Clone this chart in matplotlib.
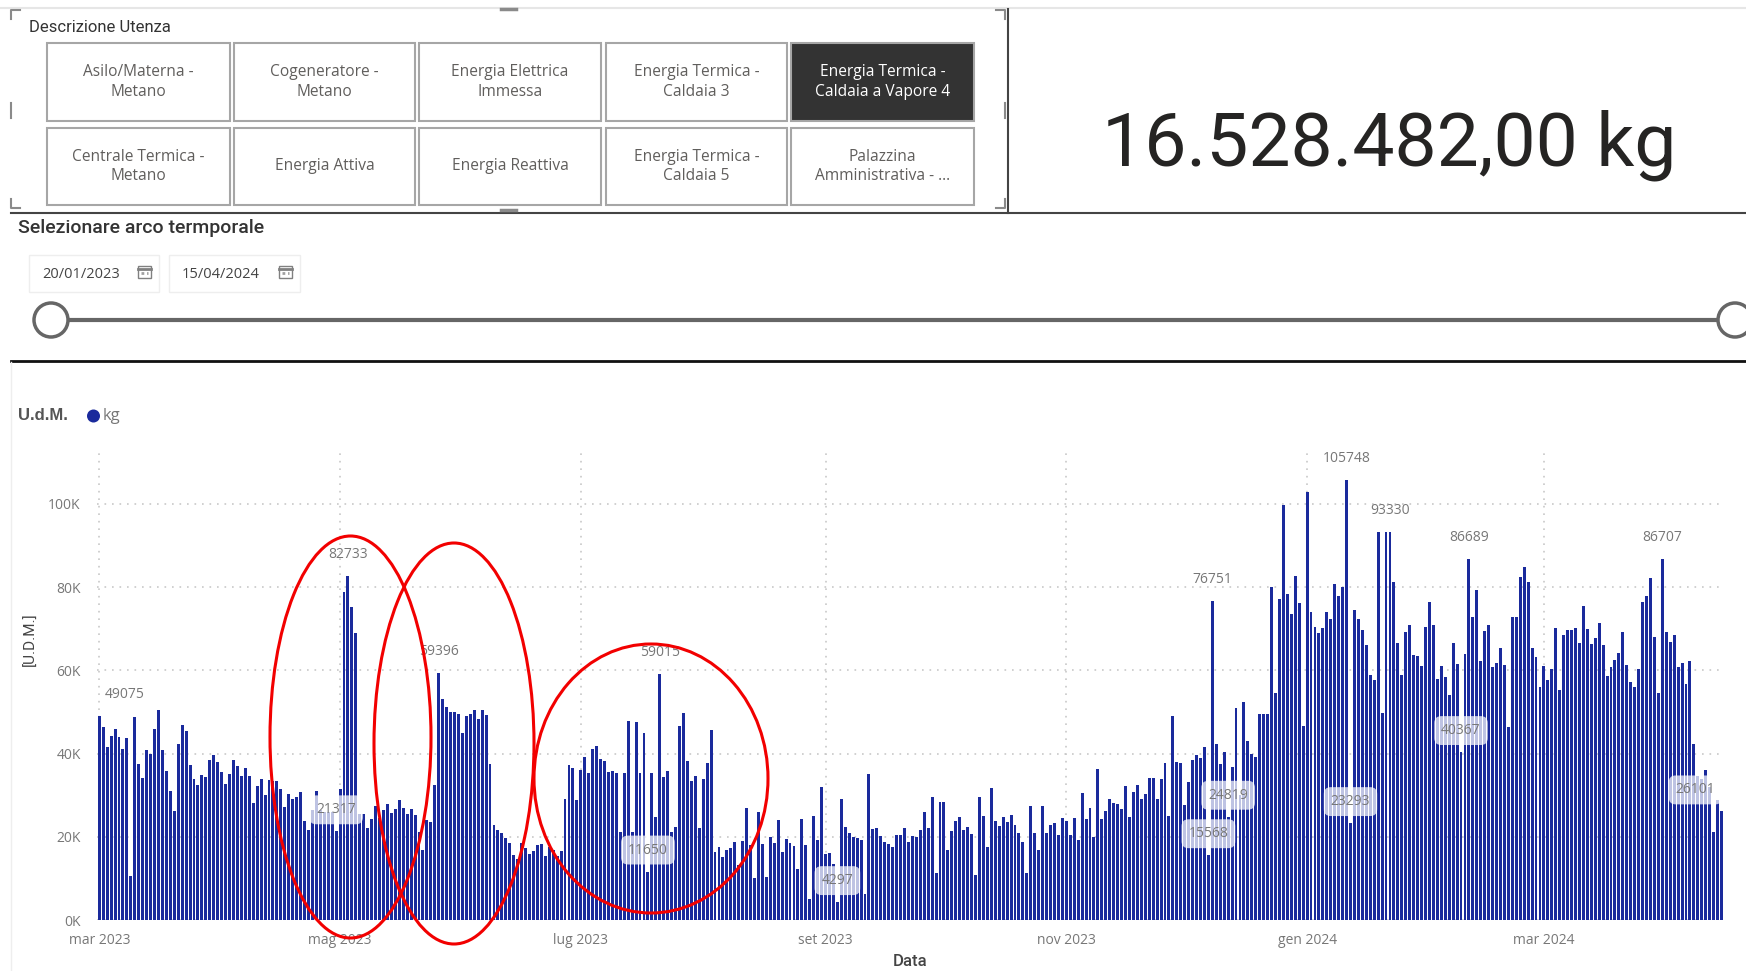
import datetime as dt
import numpy as np
import pandas as pd
import matplotlib
matplotlib.use('Agg')
import matplotlib.pyplot as plt
from matplotlib.patches import Ellipse, Rectangle, Circle

W, H = 1746, 971

# daily values, one list per month
kg_mar23 = [49075, 46500, 41700, 44300, 45800, 44000, 41000, 43700, 10500, 48800, 37500, 34100, 40800, 40000, 45800,
            50500, 40800, 35900, 30900, 26300, 42400, 46900, 45400, 37200, 33900, 32500, 34800, 34300, 38400, 39700, 38000]
kg_apr23 = [35500, 32700, 35200, 38400, 36900, 34500, 36500, 34500, 28100, 32300, 34000, 30000, 33700, 33400, 33400,
            31500, 27200, 30300, 29100, 29600, 30800, 23700, 21600, 26500, 31100, 26500, 26000, 26000, 26000, 21317]
kg_mag23 = [31600, 78800, 82733, 75200, 69000, 25500, 25500, 22100, 24300, 27500, 24500, 26400, 27900, 25700, 26700,
            28900, 26900, 25600, 26800, 25200, 21100, 16900, 24100, 23500, 32400, 59396, 53100, 51200, 49900, 49900, 49500]
kg_giu23 = [45000, 49000, 49400, 50500, 48200, 50500, 49200, 37600, 22900, 21600, 20900, 19600, 18400, 15600, 14700,
            18600, 17400, 15900, 16600, 18000, 18300, 15400, 17600, 16800, 15400, 16700, 29200, 37300, 36500, 28900]
kg_lug23 = [36100, 39100, 35400, 41000, 41800, 38600, 38300, 35600, 35700, 35300, 21100, 35400, 47800, 21200, 47500,
            35400, 45000, 11650, 35400, 24800, 59015, 34400, 35700, 21100, 22300, 46600, 49700, 38300, 33500, 34500, 22200]
kg_ago23 = [33900, 37700, 45700, 16400, 17500, 15200, 16800, 17300, 18700, 13200, 19100, 27000, 18000, 10000, 26000,
            18300, 10300, 19900, 18400, 24000, 16300, 19500, 18400, 17900, 12200, 24200, 18000, 5000, 25100, 19200, 31900]
kg_set23 = [15900, 16200, 13400, 4297, 29200, 22300, 21000, 20000, 19600, 19200, 6200, 35100, 21800, 22000, 20300,
            18800, 18300, 17500, 20400, 20400, 22200, 18800, 20300, 20000, 21600, 25900, 22200, 29500, 11400, 28300]
kg_ott23 = [28300, 16800, 21500, 23900, 24700, 21600, 22300, 20600, 10800, 29600, 25100, 17600, 31800, 23800, 22600,
            24800, 23600, 25200, 22800, 20900, 18800, 11400, 27400, 20800, 16800, 27400, 20800, 22800, 23200, 20400, 24400]
kg_nov23 = [23800, 20400, 24400, 19200, 30600, 24200, 27000, 20000, 36200, 24300, 26300, 29000, 28100, 28000, 26600,
            32300, 24800, 30700, 32400, 29000, 30300, 34100, 34100, 29100, 33800, 37700, 24900, 49000, 38000, 37700]
kg_dic23 = [27700, 33100, 38500, 39700, 39000, 41600, 15568, 76751, 42200, 37500, 40500, 24819, 36700, 51000, 30000,
            52400, 43000, 40000, 39300, 49500, 49500, 49500, 80000, 54600, 77200, 99700, 78300, 73500, 82600, 76200, 46700]
kg_gen24 = [102900, 74100, 70400, 69100, 70100, 74000, 72300, 80800, 78000, 80000, 105748, 23293, 74500, 72300, 69700,
            66100, 58800, 57600, 93200, 49700, 93200, 93330, 81200, 66500, 58900, 69200, 70800, 63800, 63400, 61000, 70500]
kg_feb24 = [76500, 70800, 57900, 61000, 58300, 54100, 66600, 61500, 40367, 64000, 86689, 72800, 79400, 62200, 69400,
            70900, 60800, 61800, 65500, 61200, 46500, 72800, 72800, 82400, 84800, 81300, 65300, 63200, 55900]
kg_mar24 = [61000, 57600, 60300, 70200, 55200, 68400, 69800, 69800, 70200, 66600, 75600, 70000, 66300, 67900, 71300,
            66000, 58600, 60800, 62400, 64300, 69200, 61200, 57300, 55900, 60400, 76400, 78000, 82100, 68000, 54600, 86707]
kg_apr24 = [69200, 66900, 68400, 60700, 61800, 56700, 62200, 42200, 34500, 34000, 36100, 32000, 21100, 28800, 26101]

peak_labels = [49075, 82733, 59396, 59015, 76751, 105748, 93330, 86689, 86707]
box_labels = [21317, 11650, 4297, 15568, 24819, 23293, 40367, 26101]
label_shift = {49075: 25, 26101: -26}

month_ticks = ['2023-03-01', '2023-05-01', '2023-07-01', '2023-09-01', '2023-11-01', '2024-01-01', '2024-03-01']
month_names = ['mar 2023', 'mag 2023', 'lug 2023', 'set 2023', 'nov 2023', 'gen 2024', 'mar 2024']
y_ticks = [0, 20000, 40000, 60000, 80000, 100000]
y_names = ['0K', '20K', '40K', '60K', '80K', '100K']

row1 = ['Asilo/Materna -\nMetano', 'Cogeneratore -\nMetano', 'Energia Elettrica\nImmessa',
        'Energia Termica -\nCaldaia 3', 'Energia Termica -\nCaldaia a Vapore 4']
row2 = ['Centrale Termica -\nMetano', 'Energia Attiva', 'Energia Reattiva',
        'Energia Termica -\nCaldaia 5', 'Palazzina\nAmministrativa - ...']

kg = (kg_mar23 + kg_apr23 + kg_mag23 + kg_giu23 + kg_lug23 + kg_ago23 + kg_set23 + kg_ott23
      + kg_nov23 + kg_dic23 + kg_gen24 + kg_feb24 + kg_mar24 + kg_apr24)
dates = pd.date_range('2023-03-01', '2024-04-15').to_pydatetime()
assert len(kg) == len(dates)

plt.rcParams['font.family'] = ['Open Sans', 'DejaVu Sans']
GREY = '#777777'
TXT = '#605e5c'
BAR = '#1a2a9c'

fig = plt.figure(figsize=(W / 100, H / 100), dpi=100, facecolor='white')

# the chart
ax = fig.add_axes([97.3 / W, 1 - 920 / H, (1723.5 - 97.3) / W, 470 / H])
ax.bar(dates, kg, width=0.74, color=BAR, zorder=2)
ax.set_xlim(dates[0] - dt.timedelta(hours=12), dates[-1] + dt.timedelta(hours=12))
ax.set_ylim(0, 112980)
for s in ax.spines.values():
    s.set_visible(False)
ax.set_xticks(pd.to_datetime(month_ticks).to_pydatetime())
ax.set_xticklabels(month_names, color=GREY, fontsize=10)
ax.set_yticks(y_ticks)
ax.set_yticklabels(y_names, color=GREY, fontsize=10)
ax.tick_params(length=0, pad=9)
ax.tick_params(axis='y', pad=12)
ax.grid(True, color='#c8c8c8', linestyle=(0, (1, 3.5)), linewidth=1.2, zorder=0)
ax.set_axisbelow(True)

for v in peak_labels + box_labels:
    i = kg.index(v)
    box = None
    if v in box_labels:
        box = dict(boxstyle='round,pad=0.5,rounding_size=0.5', fc='white', ec='none', alpha=0.72)
    ax.annotate(str(v), xy=(dates[i], v), xytext=(label_shift.get(v, 0), 21.5), textcoords='offset pixels',
                ha='center', va='center', color=GREY, fontsize=10, bbox=box, zorder=5, annotation_clip=False)

# everything around the chart, in picture pixels
ui = fig.add_axes([0, 0, 1, 1], facecolor='none')
ui.set_xlim(0, W)
ui.set_ylim(H, 0)
ui.axis('off')

ui.plot([0, W], [8, 8], color='#e6e6e6', lw=1.5)
ui.plot([1008, 1008], [9, 213], color='#444444', lw=1.5)
ui.plot([11, W], [213, 213], color='#444444', lw=1.5)
ui.plot([11, W], [361, 361], color='#111111', lw=2)
ui.plot([11, 11], [362, H], color='#eeeeee', lw=1)

# resize handles of the selected visual
for x0, dx in [(11, 1), (1005, -1)]:
    for y0, dy in [(10, 1), (208, -1)]:
        ui.plot([x0 + dx * 9, x0, x0], [y0, y0, y0 + dy * 9], color='#8a8a8a', lw=1.5)
    ui.plot([x0, x0], [103, 118], color='#8a8a8a', lw=1.5)
for y0 in [9, 210]:
    ui.plot([501, 516], [y0, y0], color='#8a8a8a', lw=2.5)

ui.text(29, 27, 'Descrizione Utenza', color='#333333', fontsize=12, va='center', family='Roboto')
col_left = [47, 234, 419, 606, 791]
col_right = [230, 415, 601, 787, 974]
for labels, top, bottom in [(row1, 43, 121), (row2, 128, 205)]:
    for j, lab in enumerate(labels):
        dark = lab.endswith('Vapore 4')
        ui.add_patch(Rectangle((col_left[j], top), col_right[j] - col_left[j], bottom - top,
                               fc='#333333' if dark else 'white', ec='#a6a6a6', lw=1.5))
        ui.text((col_left[j] + col_right[j]) / 2, (top + bottom) / 2, lab, color='white' if dark else TXT,
                fontsize=11.2, ha='center', va='center', linespacing=1.25)

ui.text(1389, 145, '16.528.482,00 kg', color='#252423', fontsize=54, ha='center', va='center', family='Roboto')

ui.text(18, 228, 'Selezionare arco termporale', color='#333333', fontsize=14, va='center', family='Roboto', weight='medium')
for x0, x1, day in [(29, 159, '20/01/2023'), (169, 300, '15/04/2024')]:
    ui.add_patch(Rectangle((x0, 255), x1 - x0, 37, fc='white', ec='#eeeeee', lw=1))
    ui.text(x0 + 13, 274, day, color='#444444', fontsize=10.5, va='center')
    ui.add_patch(Rectangle((x1 - 21, 266), 13, 12, fc='white', ec='#808080', lw=1))
    ui.plot([x1 - 21, x1 - 8], [269, 269], color='#808080', lw=2)
    ui.plot([x1 - 18, x1 - 11], [273, 273], color='#a0a0a0', lw=2, linestyle=(0, (1, 1)))

ui.plot([50, W], [320, 320], color='#666666', lw=3)
for cx in [51, 1735]:
    ui.add_patch(Circle((cx, 320), 17, fc='white', ec='#666666', lw=2.5, zorder=4))

ui.text(18, 416, 'U.d.M.', color='#555555', fontsize=12, weight='bold', va='center', family='Liberation Sans')
ui.add_patch(Circle((93.5, 416), 6.5, fc=BAR, ec='none'))
ui.text(103, 416, 'kg', color=GREY, fontsize=12, va='center')
ui.text(31, 639, '[U.D.M.]', color='#444444', fontsize=11, rotation=90, ha='center', va='center', family='Roboto')
ui.text(910, 962, 'Data', color='#444444', fontsize=12, ha='center', va='center', family='Roboto', weight='medium')

# hand drawn red ellipses on top of the chart
for left, right, top, bottom in [(270, 431, 536, 938), (374, 534, 543, 944), (534, 768, 644, 913)]:
    ui.add_patch(Ellipse(((left + right) / 2, (top + bottom) / 2), right - left, bottom - top,
                         fc='none', ec='#f20000', lw=2.2, zorder=6))

fig.savefig('out.png', dpi=100)
